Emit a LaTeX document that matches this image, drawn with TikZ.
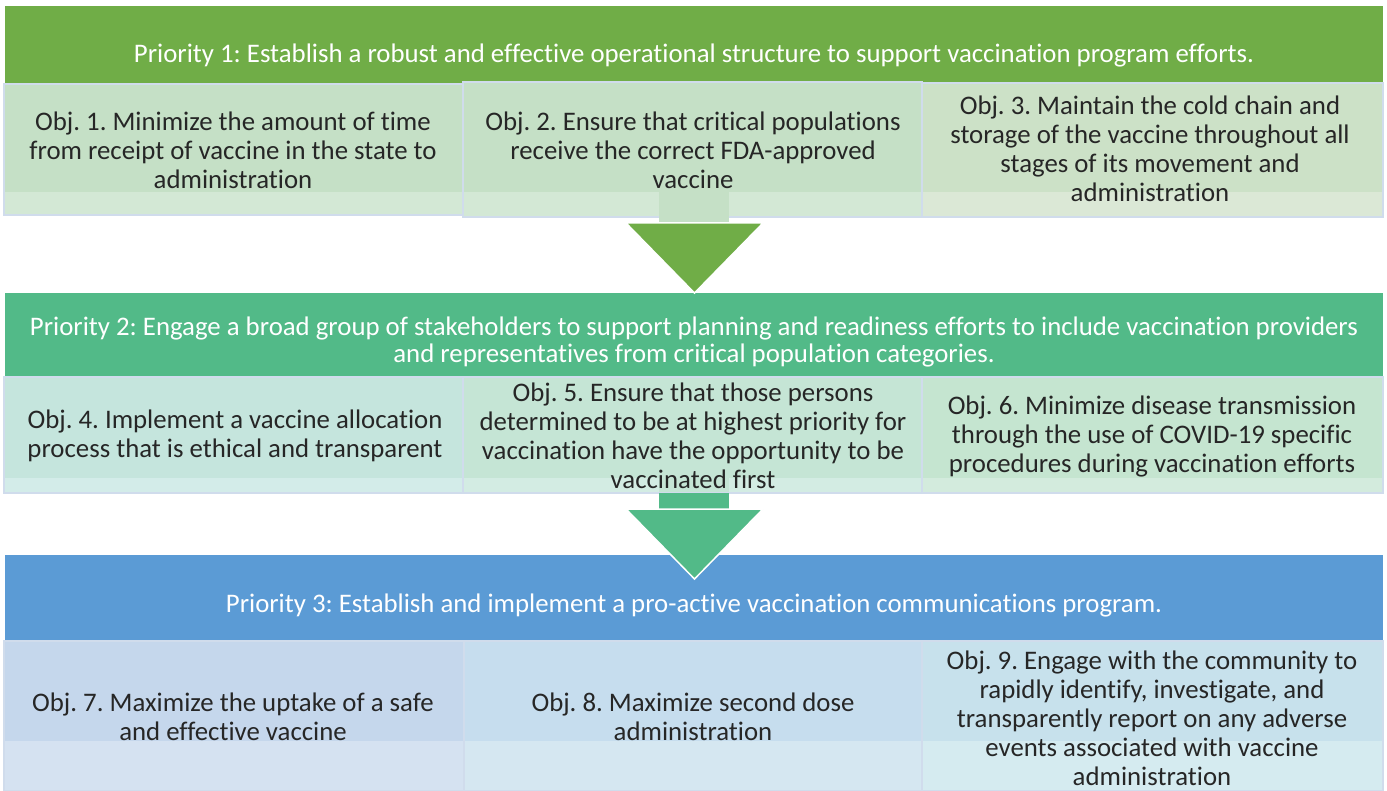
\documentclass[tikz,border=0pt]{standalone}
\usepackage{fontspec}
\setmainfont[RawFeature={-liga;-clig}]{Carlito}
\definecolor{pone}{HTML}{70AD47}
\definecolor{ptwo}{HTML}{52BA88}
\definecolor{pthree}{HTML}{5B9BD5}
\definecolor{ra}{HTML}{C5E0C6}
\definecolor{ras}{HTML}{D3E8D5}
\definecolor{rc}{HTML}{CCE1C7}
\definecolor{rcs}{HTML}{DBE8D6}
\definecolor{rd}{HTML}{C5E5DD}
\definecolor{rds}{HTML}{D3ECE9}
\definecolor{re}{HTML}{C5E5D5}
\definecolor{res}{HTML}{D3ECE3}
\definecolor{rf}{HTML}{C5E5D0}
\definecolor{rfs}{HTML}{D3EBDD}
\definecolor{rg}{HTML}{C5D7EC}
\definecolor{rgs}{HTML}{D5E2F1}
\definecolor{rh}{HTML}{C6DDEE}
\definecolor{rhs}{HTML}{D5E7F1}
\definecolor{ri}{HTML}{C7E1EC}
\definecolor{ris}{HTML}{D5EBF0}
\definecolor{edge}{HTML}{D0DCEC}
\definecolor{txt}{HTML}{262626}
\frenchspacing
\begin{document}
\begin{tikzpicture}[x=1pt,y=-1pt,
  objtext/.style={text=txt,align=center,inner sep=0pt,font=\fontsize{26.8}{29}\selectfont},
  pritext/.style={text=white,align=center,inner sep=0pt,font=\fontsize{26.8}{28}\selectfont},
  objframe/.style={draw=edge,line width=1.2pt,fill=none},
  arrowhead/.style={draw=white,line width=1.5pt,line join=miter}]
\useasboundingbox (0,0) rectangle (1387,791);
% ---------- Priority 1 ----------
\fill[pone] (5,6) rectangle (1383,84);
\node[pritext] (p1) at (694,56) {Priority 1: Establish a robust and effective operational structure to support vaccination program efforts.};
% row 1 boxes
\fill[ra] (4,84) rectangle (463,215);
\fill[ras] (4,192) rectangle (463,215);
\fill[ra] (463,82) rectangle (922,217);
\fill[ras] (463,192) rectangle (922,217);
\fill[rc] (922,83) rectangle (1383,217);
\fill[rcs] (922,192) rectangle (1383,217);
\node[objframe,minimum width=459pt,minimum height=131pt,inner sep=0pt] (b1) at (233.5,149.5) {};
\node[objframe,minimum width=459pt,minimum height=135pt,inner sep=0pt] (b2) at (692.5,149.5) {};
\node[objframe,minimum width=461pt,minimum height=134pt,inner sep=0pt] (b3) at (1152.5,150) {};
\node[objtext] (o1) at (233,150) {Obj. 1. Minimize the amount of time\\from receipt of vaccine in the state to\\administration};
\node[objtext] (o2) at (693,150) {Obj. 2. Ensure that critical populations\\receive the correct FDA-approved\\vaccine};
\node[objtext] (o3) at (1150,149) {Obj. 3. Maintain the cold chain and\\storage of the vaccine throughout all\\stages of its movement and\\administration};
% ---------- Priority 2 ----------
\fill[ptwo] (5,293) rectangle (1383,377);
\node[pritext] (p2) at (694,342) {Priority 2: Engage a broad group of stakeholders to support planning and readiness efforts to include vaccination providers\\and representatives from critical population categories.};
% arrow 1
\fill[ra] (659,192) rectangle (729,223);
\filldraw[pone,arrowhead] (626,223) -- (763,223) -- (694.5,293) -- cycle;
% row 2 boxes
\fill[rd] (4,377) rectangle (463,493);
\fill[rds] (4,478) rectangle (463,493);
\fill[re] (463,377) rectangle (922,493);
\fill[res] (463,478) rectangle (922,493);
\fill[rf] (922,377) rectangle (1383,493);
\fill[rfs] (922,478) rectangle (1383,493);
\fill[re] (659,478) rectangle (729,493);
\node[objframe,minimum width=459pt,minimum height=116pt,inner sep=0pt] (b4) at (233.5,435) {};
\node[objframe,minimum width=459pt,minimum height=116pt,inner sep=0pt] (b5) at (692.5,435) {};
\node[objframe,minimum width=461pt,minimum height=116pt,inner sep=0pt] (b6) at (1152.5,435) {};
\node[objtext] (o4) at (235,436) {Obj. 4. Implement a vaccine allocation\\process that is ethical and transparent};
\node[objtext] (o5) at (693,436) {Obj. 5. Ensure that those persons\\determined to be at highest priority for\\vaccination have the opportunity to be\\vaccinated first};
\node[objtext] (o6) at (1152,436) {Obj. 6. Minimize disease transmission\\through the use of COVID-19 specific\\procedures during vaccination efforts};
% ---------- Priority 3 ----------
\fill[pthree] (5,555) rectangle (1383,641);
\node[pritext] (p3) at (694,605) {Priority 3: Establish and implement a pro-active vaccination communications program.};
% arrow 2
\fill[ptwo] (659,493) rectangle (729,510);
\filldraw[ptwo,arrowhead] (626,509) -- (763,509) -- (694.5,579) -- cycle;
% row 3 boxes
\fill[rg] (4,641) rectangle (464,791);
\fill[rgs] (4,741) rectangle (464,791);
\fill[rh] (464,641) rectangle (922,791);
\fill[rhs] (464,741) rectangle (922,791);
\fill[ri] (922,641) rectangle (1383,791);
\fill[ris] (922,741) rectangle (1383,791);
\node[objframe,minimum width=460pt,minimum height=150pt,inner sep=0pt] (b7) at (234,716) {};
\node[objframe,minimum width=458pt,minimum height=150pt,inner sep=0pt] (b8) at (693,716) {};
\node[objframe,minimum width=461pt,minimum height=150pt,inner sep=0pt] (b9) at (1152.5,716) {};
\node[objtext] (o7) at (233,717) {Obj. 7. Maximize the uptake of a safe\\and effective vaccine};
\node[objtext] (o8) at (693,717) {Obj. 8. Maximize second dose\\administration};
\node[objtext] (o9) at (1152,718) {Obj. 9. Engage with the community to\\rapidly identify, investigate, and\\transparently report on any adverse\\events associated with vaccine\\administration};
\end{tikzpicture}
\end{document}
